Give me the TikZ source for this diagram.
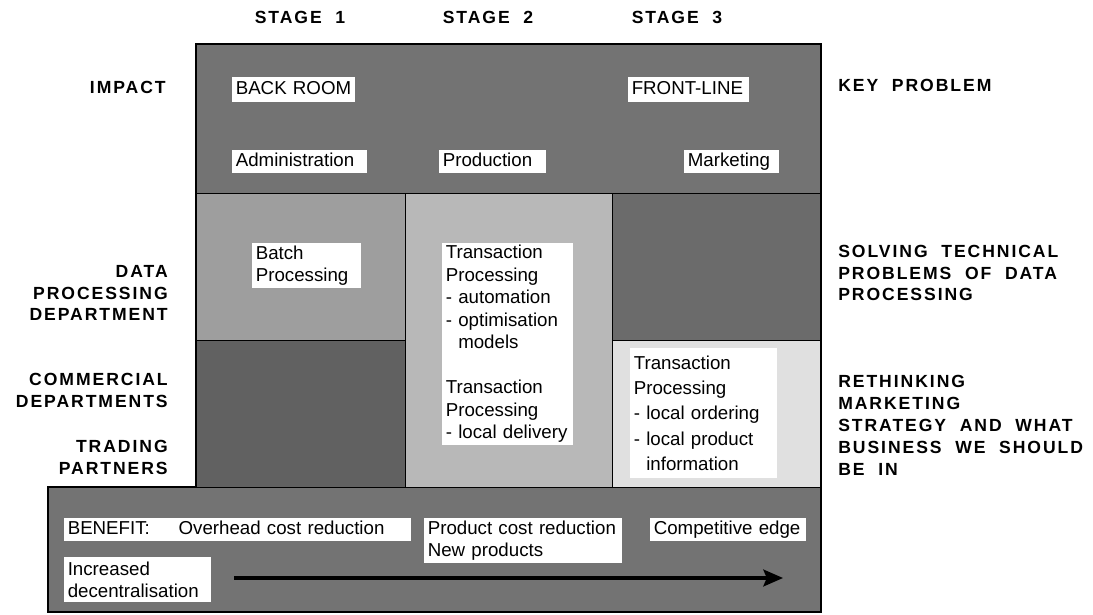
\documentclass[tikz,border=0pt]{standalone}
\usepackage{fontspec}
\setmainfont{Liberation Sans}
\newfontfamily\capsfont[LetterSpace=11,WordSpace=2]{Liberation Sans}
\usetikzlibrary{arrows.meta}
\newcommand{\boxfont}{\fontsize{13.3}{16}\selectfont}
\newcommand{\headfont}{\capsfont\bfseries\fontsize{12.5}{15.6}\selectfont}
\newcommand{\dashpad}{\hphantom{- }}
\tikzset{
  cell/.style={draw=black, line width=0.6pt},
  tbox/.style={fill=white, inner xsep=2.5pt, inner ysep=0pt, anchor=north west, align=left, font=\boxfont},
  oneline/.style={text height=9.7pt, text depth=2.8pt},
  head/.style={font=\headfont, inner sep=0pt},
  trend/.style={line width=2.2pt, -{Stealth[length=14pt,width=12pt,inset=2.5pt]}}
}

\begin{document}
\begin{tikzpicture}[x=0.025cm,y=-0.025cm]
 \useasboundingbox (0,0) rectangle (1093,615);
 % shaded cells of the grid
 \fill[black!55] (196,44) rectangle (821,193);
 \filldraw[cell,fill=black!38] (196,193) rectangle (405,340);
 \filldraw[cell,fill=black!62] (196,340) rectangle (405,487);
 \filldraw[cell,fill=black!28] (405,193) rectangle (612,487);
 \filldraw[cell,fill=black!58] (612,193) rectangle (821,340);
 \filldraw[cell,fill=black!12] (612,340) rectangle (821,487);
 \filldraw[cell,fill=black!55] (48,487) rectangle (821,612);
 \draw[line width=1.3pt] (196,44) -- (821,44) -- (821,612) -- (48,612) -- (48,487) -- (196,487) -- cycle;

 % stages and row titles
 \node[head] (stage1) at (300,17) {STAGE 1};
 \node[head] (stage2) at (488,17) {STAGE 2};
 \node[head] (stage3) at (677,17) {STAGE 3};
 \node[head, anchor=east, align=right] (impact) at (166,87) {IMPACT};
 \node[head, anchor=east, align=right] (dpdept) at (168,293) {DATA\\PROCESSING\\DEPARTMENT};
 \node[head, anchor=east, align=right] (commdept) at (168,390) {COMMERCIAL\\DEPARTMENTS};
 \node[head, anchor=east, align=right] (partners) at (168,457) {TRADING\\PARTNERS};
 \node[head, anchor=west, align=left] (keyprob) at (838,85) {KEY PROBLEM};
 \node[head, anchor=west, align=left] (techprob) at (838,273) {SOLVING TECHNICAL\\PROBLEMS OF DATA\\PROCESSING};
 \node[head, anchor=west, align=left] (rethink) at (838,425) {RETHINKING\\MARKETING\\STRATEGY AND WHAT\\BUSINESS WE SHOULD\\BE IN};

 % labels in the impact row
 \node[tbox, oneline, minimum width=87.2pt, minimum height=17.7pt, text width=82.2pt] (backroom) at (232,77) {BACK ROOM};
 \node[tbox, oneline, minimum width=85.8pt, minimum height=17.7pt, text width=80.8pt] (frontline) at (628,77) {FRONT-LINE};
 \node[tbox, oneline, minimum width=95.7pt, minimum height=16.3pt, text width=90.7pt] (admin) at (232,150) {Administration};
 \node[tbox, oneline, minimum width=75.8pt, minimum height=16.3pt, text width=70.8pt] (production) at (439,150) {Production};
 \node[tbox, oneline, minimum width=67.3pt, minimum height=16.3pt, text width=62.3pt] (marketing) at (684,150) {Marketing};

 % processing boxes
 \node[tbox, minimum width=77.2pt, minimum height=31.9pt, text width=72.2pt] (batch) at (252,243) {Batch\\Processing};
 \node[tbox, minimum width=92.8pt, minimum height=143.2pt, text width=87.8pt] (tpcentral) at (442,243)
   {Transaction\\Processing\\- automation\\- optimisation\\\dashpad models\\[16pt]Transaction\\Processing\\- local delivery};
 \node[tbox, font=\fontsize{13.3}{18}\selectfont, minimum width=104.2pt, minimum height=92.1pt, text width=99.2pt] (tplocal) at (630,348)
   {Transaction\\Processing\\- local ordering\\- local product\\\dashpad information};

 % benefit band
 \node[tbox, oneline, minimum width=246.6pt, minimum height=16.3pt, text width=241.6pt] (benefit) at (64,518) {BENEFIT:\hspace{16pt} Overhead cost reduction};
 \node[tbox, minimum width=140.3pt, minimum height=31.9pt, text width=135.3pt] (prodcost) at (424,518) {Product cost reduction\\New products};
 \node[tbox, oneline, minimum width=110.6pt, minimum height=16.3pt, text width=105.6pt] (edge) at (650,518) {Competitive edge};
 \node[tbox, minimum width=104.2pt, minimum height=31.9pt, text width=99.2pt] (decentral) at (64,557) {Increased\\decentralisation};
 \coordinate (trendstart) at (234,578);
 \coordinate (trendend) at (783,578);
 \draw[trend] (trendstart) -- (trendend);
\end{tikzpicture}
\end{document}
